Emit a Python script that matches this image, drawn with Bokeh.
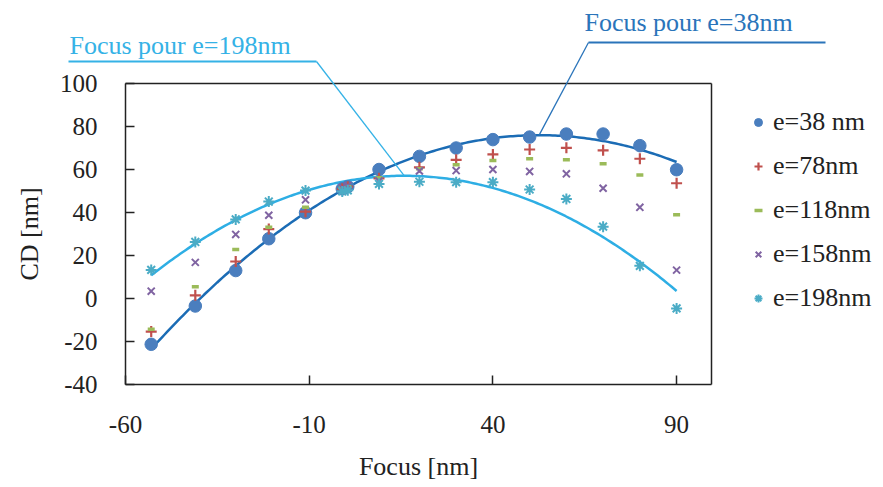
import numpy as np
from bokeh.plotting import figure
from bokeh.models import (ColumnDataSource, Legend, LegendItem, Label, Arrow,
                          FixedTicker, Range1d, LinearAxis)
from bokeh.embed import file_html
from bokeh.resources import INLINE

# ---------------- data ----------------
focus = [-53, -41, -30, -21, -11, -1, 0.5, 9, 20, 30, 40, 50, 60, 70, 80, 90]
cd_e38 = [-21.3, -3.5, 13.0, 27.8, 39.9, 51.0, 52.0, 60.0, 66.1, 70.0, 73.9, 75.1, 76.5, 76.5, 71.1, 59.9]
cd_e78 = [-15.4, 1.5, 17.2, 32.3, 40.4, 51.0, 52.0, 55.9, 61.0, 64.5, 67.0, 69.3, 70.1, 68.9, 65.0, 53.6]
cd_e118 = [-14.3, 5.5, 22.8, 33.1, 42.4, 51.5, 52.0, 56.2, 60.3, 62.2, 64.2, 65.0, 64.5, 62.7, 57.5, 39.0]
cd_e158 = [3.4, 16.8, 29.8, 38.7, 45.9, 51.5, 52.5, 54.6, 59.3, 59.5, 60.0, 59.1, 58.0, 51.3, 42.4, 13.2]
cd_e198 = [13.3, 26.3, 36.8, 45.1, 50.2, 49.8, 50.3, 53.3, 54.3, 54.1, 54.1, 50.7, 46.3, 33.4, 15.2, -4.6]

series_labels = ["e=38 nm", "e=78nm", "e=118nm", "e=158nm", "e=198nm"]
x_ticks = [-60, -10, 40, 90]
x_tick_labels = ["-60", "-10", "40", "90"]
y_ticks = [-40, -20, 0, 20, 40, 60, 80, 100]
y_tick_labels = ["-40", "-20", "0", "20", "40", "60", "80", "100"]
x_lim = (-60, 99.5)
y_lim = (-40, 100)
note_38 = "Focus pour e=38nm"
note_198 = "Focus pour e=198nm"

# ---------------- layout (pixels) ----------------
W, H = 875, 479
BOX_L, BOX_R, BOX_T, BOX_B = 125, 711, 83, 384
ppx = (BOX_R - BOX_L) / (x_lim[1] - x_lim[0])
ppy = (BOX_B - BOX_T) / (y_lim[1] - y_lim[0])
x0 = x_lim[0] - BOX_L / ppx
x1 = x_lim[1] + (W - BOX_R) / ppx
y0 = y_lim[0] - (H - BOX_B) / ppy
y1 = y_lim[1] + BOX_T / ppy


def xd(px):
    return x0 + px / ppx


def yd(py):
    return y1 - py / ppy


FONT = "Liberation Serif"
FS_TICK = "25px"
FS = "26px"
INK = "#222222"

p = figure(width=W, height=H, output_backend="svg", toolbar_location=None,
           x_range=Range1d(x0, x1), y_range=Range1d(y0, y1),
           min_border=0, min_border_left=0, min_border_right=0,
           min_border_top=0, min_border_bottom=0)
p.grid.visible = False
p.outline_line_color = None
p.background_fill_color = "white"
p.border_fill_color = "white"


def style_axis(ax):
    ax.axis_line_color = INK
    ax.axis_line_width = 1.5
    ax.major_tick_line_color = INK
    ax.major_tick_line_width = 1.5
    ax.major_tick_in = 9
    ax.major_tick_out = 0
    ax.minor_tick_line_color = None
    ax.major_label_text_font = FONT
    ax.major_label_text_font_size = FS_TICK
    ax.major_label_text_color = INK
    ax.axis_label_text_font = FONT
    ax.axis_label_text_font_size = FS
    ax.axis_label_text_font_style = "normal"
    ax.axis_label_text_color = INK


xa = p.xaxis[0]
ya = p.yaxis[0]
style_axis(xa)
style_axis(ya)
xa.fixed_location = y_lim[0]
xa.bounds = x_lim
xa.ticker = FixedTicker(ticks=x_ticks)
xa.major_label_overrides = dict(zip(x_ticks, x_tick_labels))
xa.axis_label = "Focus [nm]"
xa.major_label_standoff = 31
xa.axis_label_standoff = 16

ya.fixed_location = x_lim[0]
ya.bounds = y_lim
ya.ticker = FixedTicker(ticks=y_ticks)
ya.major_label_overrides = dict(zip(y_ticks, y_tick_labels))
ya.axis_label = "CD [nm]"
ya.major_label_standoff = 28
ya.axis_label_standoff = 13

# top and right edges of the box
top_ax = LinearAxis(fixed_location=y_lim[1], bounds=x_lim, ticker=FixedTicker(ticks=[]),
                    major_label_text_font_size="0px", axis_line_color=INK, axis_line_width=1.5,
                    major_tick_line_color=None, minor_tick_line_color=None)
right_ax = LinearAxis(fixed_location=x_lim[1], bounds=y_lim, ticker=FixedTicker(ticks=[]),
                      major_label_text_font_size="0px", axis_line_color=INK, axis_line_width=1.5,
                      major_tick_line_color=None, minor_tick_line_color=None)
p.add_layout(top_ax, "above")
p.add_layout(right_ax, "right")

# ---------------- trend lines (quadratic fits of the data) ----------------
fx = np.array(focus, dtype=float)
c38 = np.polyfit(fx, np.array(cd_e38), 2)
c198 = np.polyfit(fx, np.array(cd_e198), 2)
xs = np.linspace(fx.min(), fx.max(), 200)
col_38_line = "#1B6CB5"
col_198_line = "#2EAEE4"
p.line(xs, np.polyval(c38, xs), line_color=col_38_line, line_width=2.5)
p.line(xs, np.polyval(c198, xs), line_color=col_198_line, line_width=2.5)

# ---------------- scatter series ----------------
src = ColumnDataSource(dict(focus=focus, e38=cd_e38, e78=cd_e78, e118=cd_e118,
                            e158=cd_e158, e198=cd_e198))
r38 = p.scatter("focus", "e38", source=src, marker="circle", size=12.5,
                fill_color="#4A7EBE", line_color="#4A7EBE")
r78 = p.scatter("focus", "e78", source=src, marker="cross", size=11,
                line_color="#C0504D", line_width=2.2)
r118 = p.scatter("focus", "e118", source=src, marker="dash", size=7,
                 line_color="#9BBB59", line_width=3.5)
r158 = p.scatter("focus", "e158", source=src, marker="x", size=10,
                 line_color="#8064A2", line_width=2)
r198 = p.scatter("focus", "e198", source=src, marker="asterisk", size=11,
                 line_color="#4BACC6", line_width=2)

legend = Legend(items=[LegendItem(label=lab, renderers=[r]) for lab, r in
                       zip(series_labels, [r38, r78, r118, r158, r198])],
                location=(748, 166), orientation="vertical",
                label_text_font=FONT, label_text_font_size=FS,
                label_text_color=INK, glyph_width=20, glyph_height=20,
                label_standoff=5, spacing=14, padding=0,
                border_line_color=None, background_fill_alpha=0)
p.add_layout(legend, "center")

# ---------------- annotations: best focus of each fit ----------------
v38x = -c38[1] / (2 * c38[0]); v38y = np.polyval(c38, v38x)
v198x = -c198[1] / (2 * c198[0]); v198y = np.polyval(c198, v198x)

col_38_txt = "#2A74BA"
col_198_txt = "#35B2E6"

p.add_layout(Label(x=xd(69), y=yd(45), text=note_198, text_font=FONT, text_font_size=FS,
                   text_color=col_198_txt, text_baseline="alphabetic"))
p.add_layout(Arrow(x_start=xd(68), y_start=yd(61), x_end=xd(316), y_end=yd(61),
                   start=None, end=None, line_color=col_198_txt, line_width=2))
p.add_layout(Arrow(x_start=xd(316), y_start=yd(61), x_end=v198x, y_end=v198y,
                   start=None, end=None, line_color=col_198_txt, line_width=1.3))

p.add_layout(Label(x=xd(584), y=yd(22), text=note_38, text_font=FONT, text_font_size=FS,
                   text_color=col_38_txt, text_baseline="alphabetic"))
p.add_layout(Arrow(x_start=xd(588), y_start=yd(42), x_end=xd(825), y_end=yd(42),
                   start=None, end=None, line_color=col_38_txt, line_width=2))
p.add_layout(Arrow(x_start=xd(588), y_start=yd(42), x_end=v38x, y_end=v38y,
                   start=None, end=None, line_color=col_38_txt, line_width=1.3))

open("out.html", "w").write(file_html(p, INLINE))
